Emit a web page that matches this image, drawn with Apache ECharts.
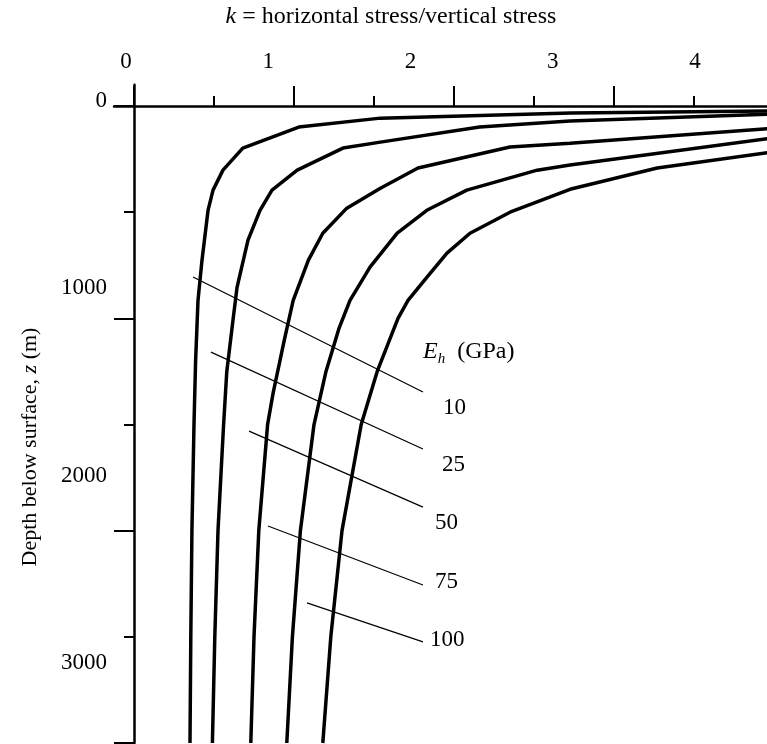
<!DOCTYPE html>
<html><head><meta charset="utf-8">
<script src="https://cdn.jsdelivr.net/npm/echarts@6/dist/echarts.min.js"></script>
<style>html,body{margin:0;padding:0;background:#fff}#c{width:767px;height:744px}</style>
</head><body><div id="c"></div>
<script>
// Tick labels (as printed)
const xTickLabels = ['0', '1', '2', '3', '4'];
const yTickLabels = ['0', '1000', '2000', '3000'];
const ehLabels = ['10', '25', '50', '75', '100'];

// Curves: [k, depth z (m)]
const curveEh10 = [[4.0,23],[2.73,33],[1.54,57],[1.03,99],[0.68,198],[0.556,302],[0.494,396],[0.463,490],[0.425,726],[0.40,915],[0.385,1200],[0.375,1500],[0.362,2000],[0.355,2500],[0.35,3000]];
const curveEh25 = [[4.0,37],[2.725,71],[2.16,99],[1.54,170],[1.306,198],[1.02,302],[0.8625,396],[0.7875,491],[0.7125,632],[0.644,854],[0.62,1000],[0.58,1250],[0.56,1500],[0.525,2000],[0.505,2500],[0.49,3000]];
const curveEh50 = [[4.0,105],[2.725,175],[2.35,193],[1.775,292],[1.54,387],[1.33,481],[1.18,599],[1.09,726],[0.995,915],[0.94,1100],[0.87,1350],[0.835,1500],[0.78,2000],[0.75,2500],[0.73,3000]];
const curveEh75 = [[4.0,150],[2.725,278],[2.52,302],[2.08,396],[1.83,491],[1.645,599],[1.475,759],[1.35,915],[1.28,1050],[1.2,1250],[1.125,1500],[1.04,2000],[0.99,2500],[0.955,3000]];
const curveEh100 = [[4.0,215],[3.27,292],[2.725,392],[2.35,500],[2.1,599],[1.956,693],[1.83,807],[1.7125,915],[1.65,1000],[1.52,1250],[1.42,1500],[1.3,2000],[1.23,2500],[1.18,3000]];

// Leader lines: [k, z]
const leaderEh10 = [[0.369,805],[1.806,1347]];
const leaderEh25 = [[0.481,1159],[1.806,1615]];
const leaderEh50 = [[0.719,1531],[1.806,1889]];
const leaderEh75 = [[0.8375,1978],[1.806,2256]];
const leaderEh100 = [[1.081,2340],[1.806,2524]];

const FONT = "'Liberation Serif', 'DejaVu Serif', serif";
const curves = [curveEh10, curveEh25, curveEh50, curveEh75, curveEh100];
const leaders = [leaderEh10, leaderEh25, leaderEh50, leaderEh75, leaderEh100];
const labelShift = [[20,16],[19,16],[12,16],[12,-3],[7,-2]];

const series = [];
curves.forEach(d => series.push({
  type: 'line', data: d, xAxisIndex: 0, yAxisIndex: 0, symbol: 'none', showSymbol: false,
  lineStyle: { color: '#000', width: 3.5 }, silent: true, z: 3
}));
leaders.forEach((d, i) => series.push({
  type: 'line', data: d, xAxisIndex: 0, yAxisIndex: 0, symbol: 'none', showSymbol: false,
  lineStyle: { color: '#000', width: 1.2 }, silent: true, z: 2,
  endLabel: { show: true, formatter: ehLabels[i], fontSize: 23, fontFamily: FONT, color: '#000',
    distance: labelShift[i][0], offset: [0, labelShift[i][1]] }
}));

const tickStyle = { color: '#000', width: 2 };
const option = {
  animation: false,
  backgroundColor: '#fff',
  grid: { left: 114, right: -7, top: 84.8, bottom: 1, containLabel: false, outerBoundsMode: 'none' },
  xAxis: [
    { type: 'value', position: 'top', min: -0.125, max: 4,
      axisLine: { show: true, onZero: true, onZeroAxisIndex: 0, lineStyle: { color: '#000', width: 2.5 } },
      axisTick: { show: true, customValues: [0, 1, 2, 3, 4], length: 20, lineStyle: tickStyle },
      axisLabel: { show: false }, splitLine: { show: false } },
    { type: 'value', position: 'top', min: -0.08436, max: 4.5554,
      axisLine: { show: false, onZero: false }, axisTick: { show: false },
      axisLabel: { show: true, customValues: xTickLabels.map(Number), formatter: v => xTickLabels[Math.round(v)],
        margin: 11, fontSize: 23, fontFamily: FONT, color: '#000' },
      splitLine: { show: false } },
    { type: 'value', position: 'top', min: -0.125, max: 4,
      axisLine: { show: false, onZero: true, onZeroAxisIndex: 0 },
      axisTick: { show: true, customValues: [0.5, 1.5, 2.5, 3.5], length: 10, lineStyle: tickStyle },
      axisLabel: { show: false }, splitLine: { show: false } }
  ],
  yAxis: [
    { type: 'value', position: 'left', inverse: true, min: -100, max: 3000,
      axisLine: { show: true, onZero: true, onZeroAxisIndex: 0, lineStyle: { color: '#000', width: 2.5 } },
      axisTick: { show: true, customValues: [0, 1000, 2000, 3000], length: 20, lineStyle: tickStyle },
      axisLabel: { show: false }, splitLine: { show: false } },
    { type: 'value', position: 'left', inverse: true, min: -86.5, max: 3427,
      axisLine: { show: false, onZero: false }, axisTick: { show: false },
      axisLabel: { show: true, customValues: yTickLabels.map(Number), formatter: v => yTickLabels[Math.round(v / 1000)],
        margin: 7, fontSize: 23, fontFamily: FONT, color: '#000' },
      splitLine: { show: false } },
    { type: 'value', position: 'left', inverse: true, min: -100, max: 3000,
      axisLine: { show: false, onZero: true, onZeroAxisIndex: 0 },
      axisTick: { show: true, customValues: [500, 1500, 2500], length: 10, lineStyle: tickStyle },
      axisLabel: { show: false }, splitLine: { show: false } }
  ],
  graphic: [
    { type: 'text', x: 391, y: 17, silent: true,
      style: { text: '{i|k} = horizontal stress/vertical stress', fontSize: 24, fontFamily: FONT, fill: '#000',
        align: 'center', verticalAlign: 'middle',
        rich: { i: { fontStyle: 'italic', fontSize: 24, fontFamily: FONT } } } },
    { type: 'text', x: 30, y: 447, rotation: Math.PI / 2, silent: true,
      style: { text: 'Depth below surface, {i|z} (m)', fontSize: 22, fontFamily: FONT, fill: '#000',
        align: 'center', verticalAlign: 'middle',
        rich: { i: { fontStyle: 'italic', fontSize: 22, fontFamily: FONT } } } },
    { type: 'text', x: 423, y: 352, silent: true,
      style: { text: '{i|E}{s|h}{t|  (GPa)}', fill: '#000', align: 'left', verticalAlign: 'middle',
        rich: {
          i: { fontStyle: 'italic', fontSize: 24, fontFamily: FONT, verticalAlign: 'bottom' },
          s: { fontStyle: 'italic', fontSize: 15, fontFamily: FONT, verticalAlign: 'bottom', padding: [0, 0, -3, 0] },
          t: { fontSize: 24, fontFamily: FONT, verticalAlign: 'bottom' }
        } } }
  ],
  series: series
};
const chart = echarts.init(document.getElementById('c'));
chart.setOption(option);
</script>
</body></html>
